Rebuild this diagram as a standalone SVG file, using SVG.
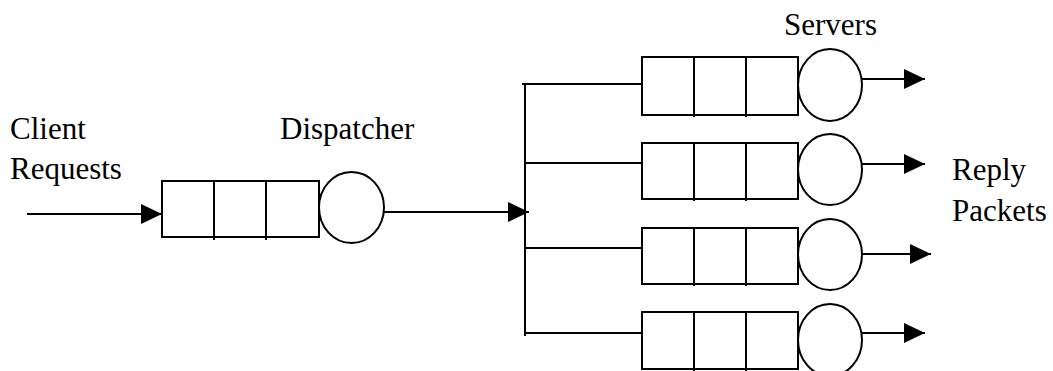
<svg xmlns="http://www.w3.org/2000/svg" width="1053" height="371" viewBox="0 0 1053 371">
  <style>
    .lbl { font-family: 'Liberation Serif', 'Times New Roman', Times, 'DejaVu Serif', serif; font-size: 31px; fill: #000; }
    .box { fill: #fff; stroke: #000; stroke-width: 2; }
    .div { stroke: #000; stroke-width: 2; }
    .srv { fill: #fff; stroke: #000; stroke-width: 2; }
    .wire { fill: none; stroke: #000; stroke-width: 2; }
  </style>
  <defs>
    <marker id="arrow" markerUnits="userSpaceOnUse" markerWidth="21" markerHeight="20" refX="21" refY="10" orient="auto">
      <path d="M0,0 L21,10 L0,20 Z" fill="#000"/>
    </marker>
  </defs>
  <rect width="1053" height="371" fill="#fff"/>

  <!-- labels -->
  <g font-family="Liberation Serif, Times New Roman, serif">
    <text class="lbl" x="10" y="139">Client</text>
    <text class="lbl" x="10" y="179">Requests</text>
    <text class="lbl" x="280" y="139">Dispatcher</text>
    <text class="lbl" x="784" y="35">Servers</text>
    <text class="lbl" x="952" y="180">Reply</text>
    <text class="lbl" x="952" y="221">Packets</text>
  </g>

  <!-- connectors -->
  <g id="connectors">
    <line class="wire" x1="27" y1="214" x2="162" y2="214" marker-end="url(#arrow)"/>
    <line class="wire" x1="384" y1="212" x2="529" y2="212" marker-end="url(#arrow)"/>
    <line class="wire" x1="525" y1="84" x2="525" y2="336"/>
    <line class="wire" x1="522" y1="84" x2="642" y2="84"/>
    <line class="wire" x1="525" y1="163" x2="642" y2="163"/>
    <line class="wire" x1="525" y1="248" x2="642" y2="248"/>
    <line class="wire" x1="525" y1="333" x2="642" y2="333"/>
    <line class="wire" x1="862" y1="79" x2="925" y2="79" marker-end="url(#arrow)"/>
    <line class="wire" x1="862" y1="164" x2="925" y2="164" marker-end="url(#arrow)"/>
    <line class="wire" x1="862" y1="254" x2="931" y2="254" marker-end="url(#arrow)"/>
    <line class="wire" x1="862" y1="333" x2="925" y2="333" marker-end="url(#arrow)"/>
  </g>

  <!-- dispatcher queue and server -->
  <g id="dispatcher">
    <rect class="box" x="162" y="181" width="157" height="56"/>
    <line class="div" x1="214" y1="181" x2="214" y2="240"/>
    <line class="div" x1="266" y1="181" x2="266" y2="240"/>
    <ellipse class="srv" cx="351.5" cy="207.5" rx="32.5" ry="35.5"/>
  </g>

  <!-- server queues -->
  <g id="server1">
    <rect class="box" x="642" y="57" width="156" height="58"/>
    <line class="div" x1="694" y1="57" x2="694" y2="117"/>
    <line class="div" x1="746" y1="57" x2="746" y2="117"/>
    <ellipse class="srv" cx="830" cy="85" rx="32" ry="36"/>
  </g>
  <g id="server2">
    <rect class="box" x="642" y="143" width="156" height="56"/>
    <line class="div" x1="694" y1="143" x2="694" y2="201"/>
    <line class="div" x1="746" y1="143" x2="746" y2="201"/>
    <ellipse class="srv" cx="830" cy="169.5" rx="32" ry="35.5"/>
  </g>
  <g id="server3">
    <rect class="box" x="642" y="228" width="156" height="56"/>
    <line class="div" x1="694" y1="228" x2="694" y2="286"/>
    <line class="div" x1="746" y1="228" x2="746" y2="286"/>
    <ellipse class="srv" cx="830" cy="254.5" rx="32" ry="35.5"/>
  </g>
  <g id="server4">
    <rect class="box" x="642" y="312" width="156" height="57"/>
    <line class="div" x1="694" y1="312" x2="694" y2="371"/>
    <line class="div" x1="746" y1="312" x2="746" y2="371"/>
    <ellipse class="srv" cx="830" cy="340" rx="32" ry="36"/>
  </g>
</svg>
